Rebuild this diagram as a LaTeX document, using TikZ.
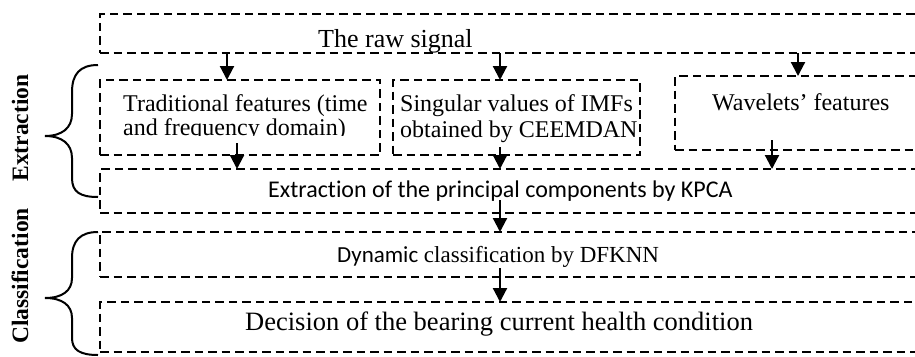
\documentclass[tikz,border=0pt]{standalone}
\usepackage{fontspec}
\setmainfont{Liberation Serif}
\newfontfamily\calfont[Ligatures={CommonOff,ContextualOff}]{Carlito}
\usetikzlibrary{arrows.meta}
\begin{document}
\begin{tikzpicture}[x=1pt,y=-1pt,
  dbox/.style={draw, dash pattern=on 8.5pt off 5pt, line width=2.2pt, inner sep=0pt, outer sep=0pt, anchor=north west},
  arr/.style={line width=2.2pt, -{Triangle[length=14pt,width=14pt]}},
  brc/.style={line width=2pt},
  txt/.style={inner sep=0pt, anchor=base west},
  lbl/.style={inner sep=0pt, rotate=90, font=\bfseries\fontsize{23.5}{28}\selectfont}]
\clip (0,0) rectangle (915,356);
\fill[white] (0,0) rectangle (915,356);
% boxes
\node[dbox, minimum width=840pt, minimum height=39pt] (raw) at (100,14) {};
\node[dbox, minimum width=280pt, minimum height=75pt] (trad) at (100,80) {};
\node[dbox, minimum width=247pt, minimum height=75pt] (sing) at (393,80) {};
\node[dbox, minimum width=300pt, minimum height=74pt] (wave) at (675,76) {};
\node[dbox, minimum width=840pt, minimum height=44pt] (kpca) at (100,169) {};
\node[dbox, minimum width=840pt, minimum height=45pt] (dfk) at (100,232) {};
\node[dbox, minimum width=840pt, minimum height=50pt] (dec) at (100,302) {};
% texts
\node[txt, font=\fontsize{26}{30}\selectfont] (trawt) at (318,47) {The raw signal};
\node[txt, font=\fontsize{24}{28}\selectfont] (tradt1) at (123,111) {Traditional features (time};
\begin{scope}
\clip (100,115) rectangle (380,135);
\node[txt, font=\fontsize{24}{28}\selectfont] (tradt2) at (123,135) {and frequency domain)};
\end{scope}
\node[txt, font=\fontsize{24}{28}\selectfont] (singt1) at (400,111) {Singular values of IMFs};
\node[txt, font=\fontsize{24}{28}\selectfont] (singt2) at (400,137) {obtained by CEEMDAN};
\node[txt, font=\fontsize{24}{28}\selectfont] (wavet) at (712,110) {Wavelets’ features};
\node[txt, font=\calfont\fontsize{24}{28}\selectfont] (kpcat) at (268,197) {Extraction of the principal components by KPCA};
\node[txt, font=\fontsize{23}{28}\selectfont] (dfkt) at (337,262) {{\calfont Dynamic} classification by DFKNN};
\node[txt, font=\fontsize{26.5}{30}\selectfont] (dect) at (245,330) {Decision of the bearing current health condition};
% labels
\node[lbl] (lext) at (20,128) {Extraction};
\node[lbl] (lcls) at (20,276) {Classification};
% arrow columns
\coordinate (c1) at (227,0);
\coordinate (c2) at (500,0);
\coordinate (c3) at (798,0);
\coordinate (c4) at (237,0);
\coordinate (c5) at (772,0);
\draw[arr] (raw.south -| c1) -- (trad.north -| c1);
\draw[arr] (raw.south -| c2) -- (sing.north -| c2);
\draw[arr] (raw.south -| c3) -- (wave.north -| c3);
\draw[arr] ([yshift=12pt]trad.south -| c4) -- (kpca.north -| c4);
\draw[arr] ([yshift=8pt]sing.south -| c2) -- (kpca.north -| c2);
\draw[arr] ([yshift=10pt]wave.south -| c5) -- (kpca.north -| c5);
\draw[arr] ([yshift=13pt]kpca.south -| c2) -- (dfk.north -| c2);
\draw[arr] ([yshift=9pt]dfk.south -| c2) -- (dec.north -| c2);
% braces
\draw[brc] (98,65) .. controls (80,65) and (72,74) .. (72,92) -- (72,114)
  .. controls (72,128) and (62,136) .. (45,136)
  .. controls (62,136) and (72,144) .. (72,158) -- (72,178)
  .. controls (72,192) and (80,197) .. (98,197);
\draw[brc] (98,232) .. controls (80,232) and (72,241) .. (72,258) -- (72,278)
  .. controls (72,291) and (62,298) .. (45,298)
  .. controls (62,298) and (72,305) .. (72,318) -- (72,338)
  .. controls (72,350) and (80,355) .. (98,355);
\end{tikzpicture}
\end{document}
